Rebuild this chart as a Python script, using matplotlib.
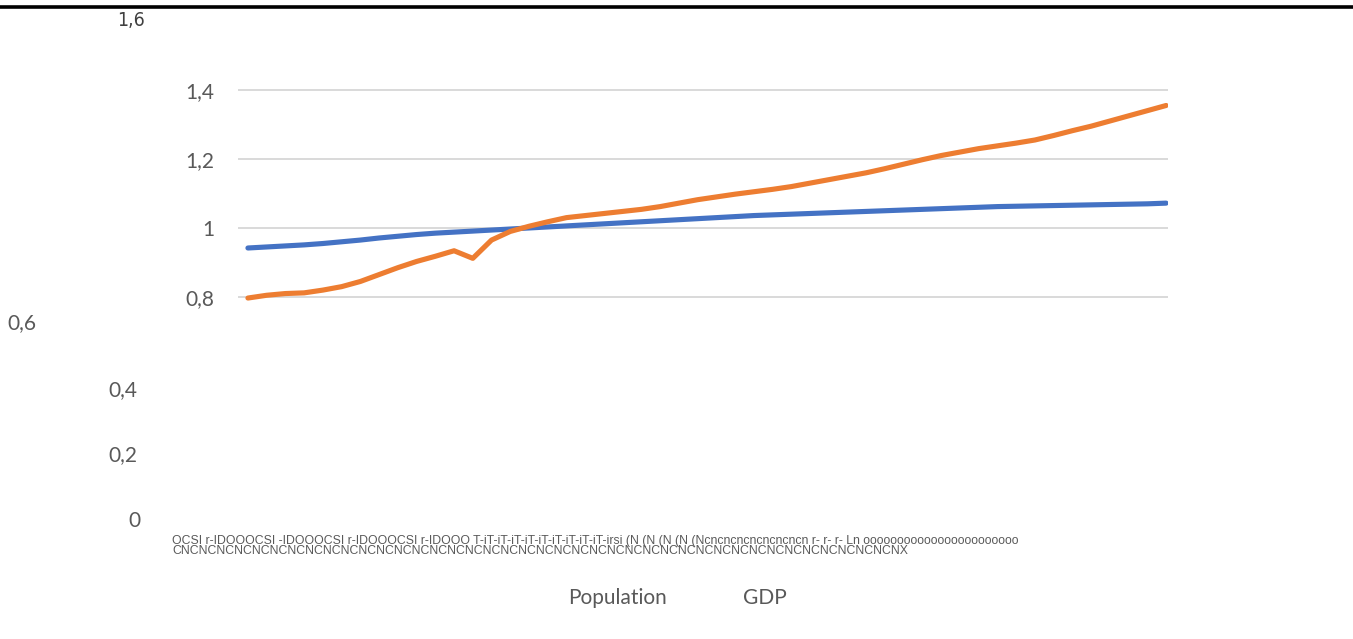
import matplotlib
matplotlib.use("Agg")
import matplotlib.pyplot as plt
from matplotlib.lines import Line2D

# Index series (base = 1), one value per year
years = list(range(1970, 2020))
population = [
    0.942, 0.945, 0.948, 0.951, 0.955, 0.960, 0.965, 0.971, 0.976, 0.981,
    0.985, 0.988, 0.991, 0.994, 0.997, 1.000, 1.003, 1.006, 1.009, 1.012,
    1.015, 1.018, 1.021, 1.024, 1.027, 1.030, 1.033, 1.036, 1.038, 1.040,
    1.042, 1.044, 1.046, 1.048, 1.050, 1.052, 1.054, 1.056, 1.058, 1.060,
    1.062, 1.063, 1.064, 1.065, 1.066, 1.067, 1.068, 1.069, 1.070, 1.072,
]
gdp = [
    0.797, 0.805, 0.810, 0.812, 0.820, 0.830, 0.845, 0.865, 0.885, 0.903,
    0.918, 0.934, 0.912, 0.965, 0.990, 1.005, 1.018, 1.030, 1.036, 1.042,
    1.048, 1.054, 1.062, 1.072, 1.082, 1.090, 1.098, 1.105, 1.112, 1.120,
    1.130, 1.140, 1.150, 1.160, 1.172, 1.185, 1.198, 1.210, 1.220, 1.230,
    1.238, 1.246, 1.255, 1.268, 1.282, 1.295, 1.310, 1.325, 1.340, 1.355,
]
series_names = ["Population", "GDP"]
grid_ticks = [0.8, 1.0, 1.2, 1.4]
grid_labels = ["0,8", "1", "1,2", "1,4"]
loose_labels = ["1,6", "0,6", "0,4", "0,2", "0"]
axis_text_top = ("OCSI r-IDOOOCSI -IDOOOCSI r-IDOOOCSI r-IDOOO " + "T-i" * 10 + "rsi "
                 "(N (N (N (N (N" + "cn" * 8 + " r- r- r- Ln " + "o" * 23)
axis_text_bottom = "CN" * 41 + "X"

W, H = 1353, 639
fig = plt.figure(figsize=(W / 100, H / 100), dpi=100)
fig.patch.set_facecolor("white")

gray = "#595959"
label_font = "Lato"

# plot area in pixel terms
x_left, x_right = 238, 1168
y_top, y_bot = 79.6, 303.9
ax = fig.add_axes([x_left / W, 1 - y_bot / H, (x_right - x_left) / W, (y_bot - y_top) / H])
ax.set_xlim(-0.53, 49.1)
ax.set_ylim(0.78, 1.43)

idx = list(range(len(years)))
ax.plot(idx, population, color="#4472C4", lw=3.7, solid_capstyle="round", zorder=3)
ax.plot(idx, gdp, color="#ED7D31", lw=3.7, solid_capstyle="round", zorder=4)

for v in grid_ticks:
    ax.axhline(v, color="#d9d9d9", lw=1.4, zorder=1)

ax.set_yticks(grid_ticks)
ax.set_yticklabels(grid_labels, fontfamily=label_font, fontsize=15, color=gray)
ax.tick_params(axis="y", length=0, pad=17)
ax.set_xticks([])
for s in ax.spines.values():
    s.set_visible(False)
ax.patch.set_alpha(0)

# loose value labels around the chart
loose_pos = [(131, 21), (22, 323), (123, 390), (123, 455), (134, 521)]
for txt, (px, py) in zip(loose_labels, loose_pos):
    kw = dict(fontfamily=label_font, fontsize=15, color=gray)
    if txt == "1,6":
        kw = dict(fontfamily=["Liberation Sans Narrow", "DejaVu Sans"], fontsize=14,
                  color="#404040", fontstretch="condensed")
    fig.text(px / W, 1 - py / H, txt, ha="center", va="center", **kw)

# category axis text
fig.text(172 / W, 1 - 541 / H, axis_text_top, ha="left", va="center",
         fontfamily="Liberation Sans", fontsize=8.8, color=gray)
fig.text(172 / W, 1 - 551 / H, axis_text_bottom, ha="left", va="center",
         fontfamily="Liberation Sans", fontsize=8.8, color=gray)

# legend labels
for name, px in zip(series_names, [568, 743]):
    fig.text(px / W, 1 - 598 / H, name, ha="left", va="center",
             fontfamily=label_font, fontsize=15, color=gray)

# rule across the top of the page
fig.add_artist(Line2D([0, 1], [1 - 6.5 / H, 1 - 6.5 / H], transform=fig.transFigure,
                      color="black", lw=2.6))

fig.savefig("out.png", dpi=100, facecolor="white")
